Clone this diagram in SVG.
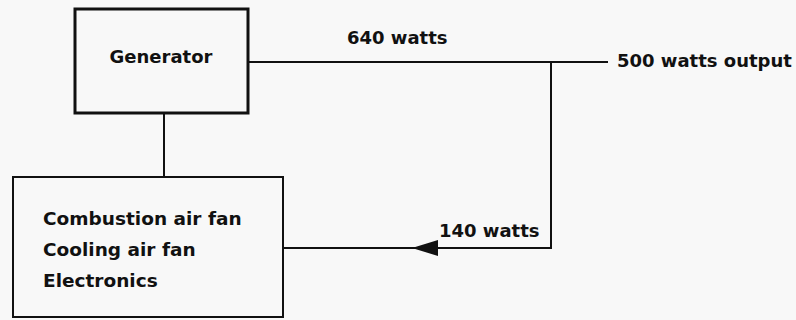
<svg xmlns="http://www.w3.org/2000/svg" width="796" height="320" viewBox="0 0 796 320">
<defs>
<style>
.box{fill:none;stroke:#111;}
.ln{fill:none;stroke:#111;stroke-width:2;}
text{font-family:"DejaVu Sans","Liberation Sans",sans-serif;font-weight:bold;font-size:18px;fill:#111;}
.big{font-size:18.5px;}
</style>
</defs>
<rect width="796" height="320" fill="#f8f8f8"/>
<g id="connectors">
<path class="ln" d="M248,62 H608"/>
<path class="ln" d="M551,62 V248 H283"/>
<path d="M412,248 L438,240 L438,256 Z" fill="#111"/>
<path class="ln" d="M164,113 V177"/>
</g>
<g id="generator">
<rect class="box" x="75" y="9" width="173" height="104" stroke-width="3"/>
<text x="161" y="63" text-anchor="middle">Generator</text>
</g>
<g id="loads">
<rect class="box" x="13" y="177" width="270" height="140" stroke-width="2"/>
<text class="big" x="43" y="225">Combustion air fan</text>
<text class="big" x="43" y="256">Cooling air fan</text>
<text class="big" x="43" y="287">Electronics</text>
</g>
<g id="labels">
<text x="347" y="44">640 watts</text>
<text x="439" y="237">140 watts</text>
<text x="617" y="67">500 watts output</text>
</g>
</svg>
